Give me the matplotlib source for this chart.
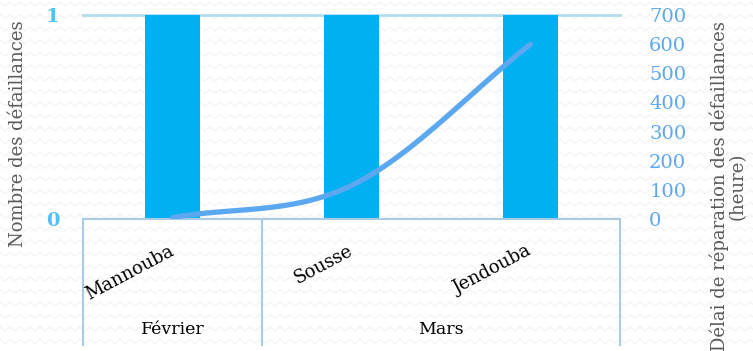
import numpy as np
import matplotlib
matplotlib.use("Agg")
import matplotlib.pyplot as plt
from matplotlib.lines import Line2D

# ---- data ----
regions = ["Mannouba", "Sousse", "Jendouba"]
months = ["Février", "Mars"]
month_spans = [(0, 1), (1, 3)]          # category index ranges per month
nb_defaillances = [1, 1, 1]
delai_heures = [5, 115, 600]
left_ticks = [0, 1]
right_ticks = [0, 100, 200, 300, 400, 500, 600, 700]

W, H = 753, 351
fig = plt.figure(figsize=(W / 100, H / 100), dpi=100)
fig.patch.set_facecolor("white")

# faint zigzag background texture
bg = fig.add_axes([0, 0, 1, 1], zorder=-10)
bg.set_xlim(0, W); bg.set_ylim(H, 0); bg.axis("off")
zx = np.arange(0, W + 10, 5.0)
zz = np.where((np.arange(len(zx)) % 2) == 0, -2.0, 2.0)
for yr in np.arange(4, H + 12, 12.5):
    bg.plot(zx, yr + zz, color="#F4F4F4", lw=1.0, solid_joinstyle="round")

x0, x1, yb, yt = 83, 620, 219, 15
ax = fig.add_axes([x0 / W, 1 - yb / H, (x1 - x0) / W, (yb - yt) / H])
ax.set_facecolor("none")
ax2 = ax.twinx()

n = len(regions)
xs = np.arange(n)
ax.bar(xs, nb_defaillances, width=0.31, color="#00B0F0", zorder=2)
ax.set_xlim(-0.5, n - 0.5)
ax.set_ylim(0, 1)
ax2.set_ylim(0, 700)

# smooth line through the points (Catmull-Rom, rendering only)
def catmull(px, py, steps=40):
    px = np.asarray(px, float); py = np.asarray(py, float)
    P = np.column_stack([px, py])
    P = np.vstack([2 * P[0] - P[1], P, 2 * P[-1] - P[-2]])
    out = []
    for i in range(1, len(P) - 2):
        p0, p1, p2, p3 = P[i - 1], P[i], P[i + 1], P[i + 2]
        t = np.linspace(0, 1, steps)[:, None]
        seg = 0.5 * ((2 * p1) + (-p0 + p2) * t + (2 * p0 - 5 * p1 + 4 * p2 - p3) * t**2
                     + (-p0 + 3 * p1 - 3 * p2 + p3) * t**3)
        out.append(seg)
    out = np.vstack(out)
    return out[:, 0], out[:, 1]

sx, sy = catmull(xs, delai_heures)
ax2.plot(sx, sy, color="#5BA8F0", lw=3.8, solid_capstyle="round", zorder=3)

for a in (ax, ax2):
    for s in a.spines.values():
        s.set_visible(False)
ax.set_xticks([])
ax.tick_params(axis="y", length=0, pad=17)
ax.set_yticks(left_ticks)
ax.set_yticklabels([str(v) for v in left_ticks], color="#4DC3F5",
                   fontsize=14, family="DejaVu Serif", fontweight="bold")
ax2.set_yticks(right_ticks)
ax2.set_yticklabels([str(v) for v in right_ticks], color="#5BA8F0",
                    fontsize=14, family="DejaVu Serif")
ax2.tick_params(axis="y", length=0, pad=21)

ax.axhline(1, color="#B4DDEE", lw=2, zorder=1, clip_on=False)
ax.axhline(0, color="#A9CBE6", lw=1.5, zorder=4, clip_on=False)

# category & month labels
def px2fig(x, y):
    return x / W, 1 - y / H

cat_w = (x1 - x0) / n
for i, r in enumerate(regions):
    cx = x0 + (i + 0.5) * cat_w
    fx, fy = px2fig(cx + 4, 242)
    fig.text(fx, fy, r, rotation=28, ha="right", va="top", fontsize=13,
             family="DejaVu Serif", color="black")

for m, (a, b) in zip(months, month_spans):
    cx = x0 + (a + b) / 2 * cat_w
    fx, fy = px2fig(cx, 330)
    fig.text(fx, fy, m, ha="center", va="center", fontsize=12.5,
             family="DejaVu Serif", color="black")

bounds = sorted(set([s for s, e in month_spans] + [e for s, e in month_spans]))
for bnd in bounds:
    xp = x0 + bnd * cat_w
    fig.add_artist(Line2D([xp / W, xp / W], [1 - yb / H, 1 - 345 / H],
                          color="#A9CBE6", lw=1.5))

fig.text(18 / W, 1 - 134 / H, "Nombre des défaillances", rotation=90,
         ha="center", va="center", fontsize=13, family="DejaVu Serif", color="#595959")
fig.text(728 / W, 1 - 186 / H, "Délai de réparation des défaillances\n(heure)",
         rotation=90, ha="center", va="center", fontsize=13, family="DejaVu Serif",
         color="#595959", linespacing=1.0, multialignment="center")

fig.savefig("out.png", dpi=100)
